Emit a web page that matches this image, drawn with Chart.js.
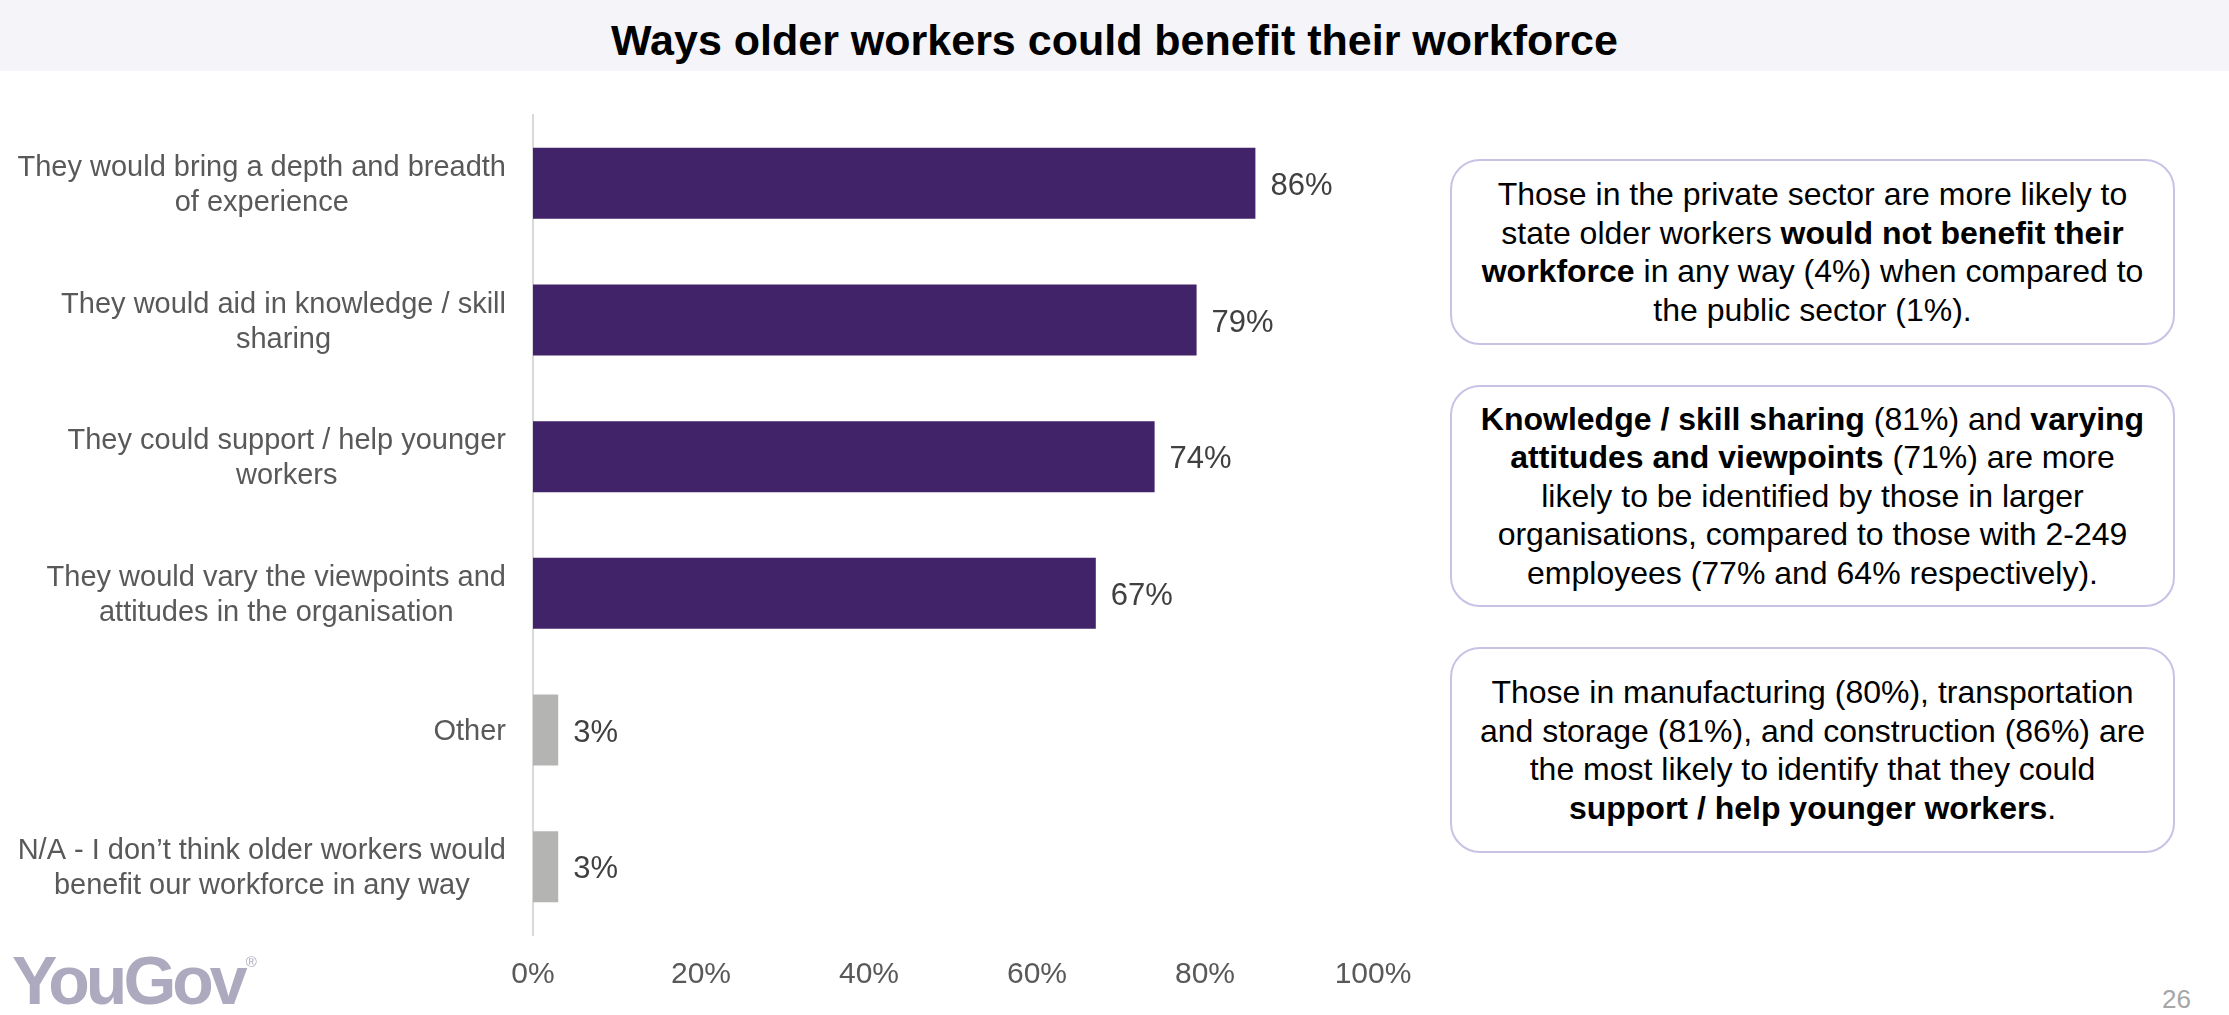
<!DOCTYPE html>
<html>
<head>
<meta charset="utf-8">
<title>Ways older workers could benefit their workforce</title>
<script src="https://cdn.jsdelivr.net/npm/chart.js@4.4.1/dist/chart.umd.min.js"></script>
<style>
    html, body {
        margin: 0;
        padding: 0;
        width: 2229px;
        height: 1015px;
        background: #ffffff;
        overflow: hidden;
        font-family: "Liberation Sans", Arial, sans-serif;
    }
    .title-band {
        position: absolute;
        left: 0; top: 0;
        width: 2229px; height: 71px;
        background: #f5f5f9;
    }
    .title-band h1 {
        margin: 0;
        font-size: 43px;
        font-weight: bold;
        line-height: 71px;
        text-align: center;
        color: #000;
        position: relative;
        top: 5px;
    }
    #chartWrap {
        position: absolute;
        left: 0; top: 0;
    }
    .note {
        position: absolute;
        left: 1450px;
        width: 725px;
        box-sizing: border-box;
        border: 2px solid #c8c2e6;
        border-radius: 30px;
        display: flex;
        align-items: center;
        justify-content: center;
        text-align: center;
        font-size: 32px;
        line-height: 38.5px;
        color: #000;
    }
    .note b { font-weight: bold; }
    .logo {
        position: absolute;
        left: 12px; top: 940px;
        font-size: 68px;
        font-weight: bold;
        letter-spacing: -4px;
        color: #ada9be;
        line-height: 80px;
    }
    .logo sup {
        font-size: 15px;
        font-weight: normal;
        letter-spacing: 0;
        vertical-align: top;
        position: relative;
        top: -18px;
        left: 2px;
    }
    .page-no {
        position: absolute;
        right: 38px; top: 984px;
        font-size: 26px;
        color: #a6a6a6;
    }
</style>
</head>
<body>

<div class="title-band"><h1>Ways older workers could benefit their workforce</h1></div>

<div id="chartWrap"><canvas id="benefitChart" width="1440" height="1015"></canvas></div>

<div class="note" style="top:159px; height:186px;">
    <div>Those in the private sector are more likely to<br>
    state older workers <b>would not benefit their</b><br>
    <b>workforce</b> in any way (4%) when compared to<br>
    the public sector (1%).</div>
</div>
<div class="note" style="top:385px; height:222px;">
    <div><b>Knowledge / skill sharing</b> (81%) and <b>varying</b><br>
    <b>attitudes and viewpoints</b> (71%) are more<br>
    likely to be identified by those in larger<br>
    organisations, compared to those with 2-249<br>
    employees (77% and 64% respectively).</div>
</div>
<div class="note" style="top:647px; height:206px;">
    <div>Those in manufacturing (80%), transportation<br>
    and storage (81%), and construction (86%) are<br>
    the most likely to identify that they could<br>
    <b>support / help younger workers</b>.</div>
</div>

<div class="logo">YouGov<sup>&reg;</sup></div>
<div class="page-no">26</div>

<script>
// 回答カテゴリ (ラベルは改行位置ごとに配列で保持)
const categories = [
    ['They would bring a depth and breadth', 'of experience'],
    ['They would aid in knowledge / skill', 'sharing'],
    ['They could support / help younger', 'workers'],
    ['They would vary the viewpoints and', 'attitudes in the organisation'],
    ['Other'],
    ['N/A - I don\u2019t think older workers would', 'benefit our workforce in any way']
];

// 回答率 (%)
const values = [86, 79, 74, 67, 3, 3];

// X軸の目盛り
const xTicks = [0, 20, 40, 60, 80, 100];

const PURPLE = '#41236a';
const GREY = '#b4b5b3';
const FONT = '"Liberation Sans", Arial, sans-serif';

// 「その他」「該当なし」はグレーで表示
const barColour = (ctx) => ctx.dataIndex < 4 ? PURPLE : GREY;

// カテゴリラベル: 各ブロックは右揃え、行はブロック内で中央揃え
const categoryLabels = {
    id: 'categoryLabels',
    afterDraw(chart) {
        const { ctx, scales: { y }, chartArea } = chart;
        const right = chartArea.left - 27;
        const lineHeight = 35;
        ctx.save();
        ctx.font = `29px ${FONT}`;
        ctx.fillStyle = '#595959';
        ctx.textAlign = 'center';
        ctx.textBaseline = 'middle';
        categories.forEach((lines, i) => {
            const blockWidth = Math.max(...lines.map(l => ctx.measureText(l).width));
            const cx = right - blockWidth / 2;
            const cy = y.getPixelForValue(i) + 2;
            const startY = cy - (lines.length - 1) * lineHeight / 2;
            lines.forEach((line, j) => {
                ctx.fillText(line, cx, startY + j * lineHeight);
            });
        });
        ctx.restore();
    }
};

// バー右側の数値ラベル
const valueLabels = {
    id: 'valueLabels',
    afterDatasetsDraw(chart) {
        const { ctx, scales: { x, y } } = chart;
        ctx.save();
        ctx.font = `31px ${FONT}`;
        ctx.fillStyle = '#404040';
        ctx.textAlign = 'left';
        ctx.textBaseline = 'middle';
        values.forEach((v, i) => {
            ctx.fillText(v + '%', x.getPixelForValue(v) + 15, y.getPixelForValue(i) + 3);
        });
        ctx.restore();
    }
};

const ctx = document.getElementById('benefitChart').getContext('2d');
new Chart(ctx, {
    type: 'bar',
    data: {
        labels: categories.map(c => c.join(' ')),
        datasets: [{
            data: values,
            backgroundColor: barColour,
            borderWidth: 0,
            categoryPercentage: 1,
            barPercentage: 0.52
        }]
    },
    options: {
        indexAxis: 'y',
        responsive: false,
        animation: false,
        devicePixelRatio: 1,
        layout: {
            padding: { left: 533, right: 67, top: 115, bottom: 0 }
        },
        scales: {
            x: {
                min: 0,
                max: 100,
                afterBuildTicks: (scale) => {
                    scale.ticks = xTicks.map(v => ({ value: v }));
                },
                grid: { display: false, drawTicks: false },
                border: { display: false },
                ticks: {
                    padding: 22,
                    color: '#595959',
                    font: { family: FONT, size: 30 },
                    callback: (v) => v + '%'
                }
            },
            y: {
                grid: { display: false, drawTicks: false },
                border: { display: true, color: '#d9d9d9', width: 2 },
                ticks: { display: false }
            }
        },
        plugins: {
            legend: { display: false },
            tooltip: { enabled: false }
        }
    },
    plugins: [categoryLabels, valueLabels]
});
</script>
</body>
</html>
